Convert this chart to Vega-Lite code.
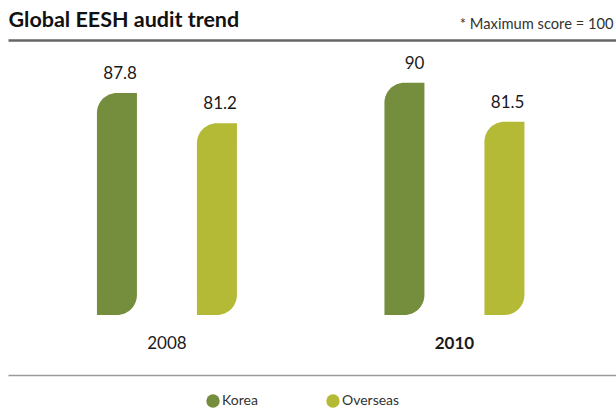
{
  "$schema": "https://vega.github.io/schema/vega-lite/v6.json",
  "width": 616,
  "height": 335,
  "autosize": {"type": "none"},
  "padding": {"top": 40, "left": 0, "right": 0, "bottom": 36},
  "background": "white",
  "config": {"view": {"stroke": null}, "font": "Lato"},
  "data": {
    "values": [
      {"year": "2008", "series": "Korea", "score": 87.8},
      {"year": "2008", "series": "Overseas", "score": 81.2},
      {"year": "2010", "series": "Korea", "score": 90},
      {"year": "2010", "series": "Overseas", "score": 81.5}
    ]
  },
  "layer": [
    {
      "mark": {"type": "bar", "cornerRadiusTopLeft": 30, "cornerRadiusBottomRight": 30},
      "encoding": {
        "x": {
          "field": "year", "type": "nominal",
          "scale": {"range": [8, 616], "paddingInner": 0, "paddingOuter": 0.0574, "align": 0.46},
          "axis": {
            "orient": "bottom", "title": null, "ticks": false, "tickSize": 0, "grid": false,
            "domainColor": "#9a9a9a", "domainWidth": 1.3,
            "labelAngle": 0, "labelPadding": -32, "labelBaseline": "middle", "labelDx": -7,
            "labelFont": "Lato", "labelFontSize": 17, "labelColor": "#1a1a1a",
            "labelFontWeight": {"condition": {"test": "datum.value == '2010'", "value": "bold"}, "value": "normal"}
          }
        },
        "xOffset": {
          "field": "series", "type": "nominal",
          "scale": {"paddingInner": 0.6, "paddingOuter": 0.7375}
        },
        "y": {
          "field": "score", "type": "quantitative",
          "scale": {"domain": [39.5, 99.3], "range": [275, 0], "zero": false, "nice": false},
          "axis": {
            "orient": "left", "labels": false, "ticks": false, "domain": false, "grid": false,
            "title": "Global EESH audit trend", "titleAngle": 0, "titleX": 8, "titleY": -13.5,
            "titleAlign": "left", "titleBaseline": "alphabetic",
            "titleFont": "Lato", "titleFontSize": 21.5, "titleFontWeight": "bold", "titleColor": "#111111"
          }
        },
        "y2": {"datum": 39.5},
        "color": {
          "field": "series", "type": "nominal",
          "scale": {"domain": ["Korea", "Overseas"], "range": ["#758E3D", "#B5BA36"]},
          "legend": {
            "title": null, "orient": "none", "direction": "horizontal",
            "legendX": 206, "legendY": 354, "padding": 0,
            "symbolType": "circle", "symbolSize": 180, "symbolStrokeWidth": 0, "symbolOpacity": 1,
            "labelOffset": 2, "columnPadding": 68,
            "labelFont": "Lato", "labelFontSize": 14, "labelColor": "#333333"
          }
        }
      }
    },
    {
      "mark": {"type": "text", "align": "right", "baseline": "alphabetic", "dx": 20, "dy": -14, "font": "Lato", "fontSize": 17, "color": "#1a1a1a"},
      "encoding": {
        "x": {
          "field": "year", "type": "nominal",
          "axis": {
            "orient": "top", "labels": false, "ticks": false, "grid": false,
            "domainColor": "#666666", "domainWidth": 2.5,
            "title": "* Maximum score = 100", "titleX": 613, "titleY": -11.7,
            "titleAlign": "right", "titleBaseline": "alphabetic", "titleAngle": 0,
            "titleFont": "Lato", "titleFontSize": 14.7, "titleFontWeight": "normal", "titleColor": "#333333"
          }
        },
        "xOffset": {"field": "series", "type": "nominal"},
        "y": {"field": "score", "type": "quantitative"},
        "text": {"field": "score", "type": "quantitative"}
      }
    }
  ],
  "resolve": {"axis": {"x": "independent"}}
}
